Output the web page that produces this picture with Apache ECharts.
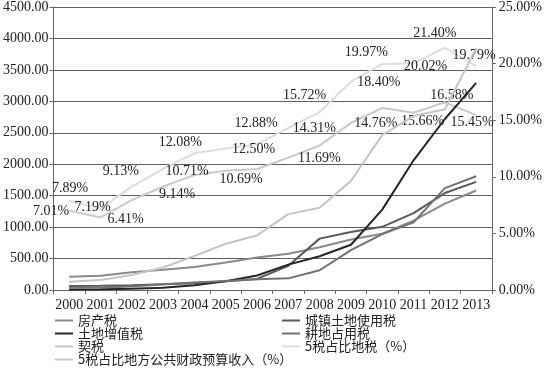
<!DOCTYPE html>
<html>
<head>
<meta charset="utf-8">
<script src="https://cdn.jsdelivr.net/npm/echarts@6/dist/echarts.min.js"></script>
<style>html,body{margin:0;padding:0;background:#fff;}#c{width:545px;height:371px;}</style>
</head>
<body>
<div id="c"></div>
<script>
// ---- data ----
const years = ['2000','2001','2002','2003','2004','2005','2006','2007','2008','2009','2010','2011','2012','2013'];
const fangchanshui = [209.4, 228.4, 282.4, 323.9, 366.3, 435.9, 515.1, 575.5, 680.3, 803.7, 894.1, 1102.4, 1372.5, 1581.5];
const chengzhenTudi = [64.8, 66.2, 76.8, 91.6, 106.2, 137.3, 176.8, 385.5, 816.9, 921.0, 1004.0, 1222.3, 1541.7, 1718.8];
const tudiZengzhi = [8.4, 10.3, 20.5, 37.3, 75.0, 140.3, 231.5, 403.1, 537.4, 719.6, 1278.3, 2062.6, 2719.1, 3293.9];
const gengdiZhanyong = [35.3, 38.3, 57.3, 89.9, 120.1, 141.9, 171.1, 185.0, 314.4, 633.1, 888.6, 1075.5, 1620.7, 1808.2];
const qishui = [131.1, 157.1, 239.1, 358.1, 540.1, 735.1, 867.7, 1206.3, 1307.5, 1735.1, 2464.9, 2765.7, 2874.0, 3844.0];
const shareLocalTax = [7.89, 7.19, 9.13, 10.71, 12.08, 12.50, 12.88, 14.31, 15.72, 18.40, 19.97, 20.02, 21.40, 19.79];
const shareBudget = [7.01, 6.41, 7.94, 9.14, 10.15, 10.53, 10.69, 11.69, 12.76, 14.76, 16.08, 15.66, 16.58, 15.45];
const leftTicks = {min: 0, max: 4500, interval: 500};
const rightTicks = {min: 0, max: 25, interval: 5};

// ---- label styling (which labels are visible and where they sit) ----
const labelShowTax = [1,1,1,1,1,1,1,1,1,1,1,1,1,1];
const labelOffTax = [[1,-12],[-8,-1],[-11,-15],[24,3],[-14,-11],[28,1],[-1,-21],[26,0],[-15,-17],[28,1],[-16,-12],[12,3],[-10,-14],[-2,-11]];
const labelShowBud = [1,1,0,1,0,0,1,1,0,1,0,1,1,1];
const labelOffBud = [[-18,1],[25,2],[0,0],[14,8],[0,0],[0,0],[-16,10],[31,1],[0,0],[25,0],[0,0],[9,9],[7,-7],[-4,7]];

const numFont = 'Liberation Serif';
const cjkFont = 'Noto Sans CJK SC';
const names = ['房产税','城镇土地使用税','土地增值税','耕地占用税','契税','5税占比地税（%）','5税占比地方公共财政预算收入（%）'];
const colors = ['#8a8a8a','#5a5a5a','#262626','#727272','#c4c4c4','#dedede','#c9c9c9'];

function pctData(vals, show, offs){
  return vals.map((v,i)=>({
    value: v,
    label: {show: !!show[i], offset: offs[i]}
  }));
}
function taxSeries(name, vals, color){
  return {name, type:'line', data: vals, yAxisIndex: 0, symbol:'none', color,
    lineStyle:{width:2, color}, z: 3};
}
function pctSeries(name, vals, color, show, offs){
  return {name, type:'line', data: pctData(vals, show, offs), yAxisIndex: 1,
    symbol:'circle', symbolSize: 0.1, showSymbol: true, showAllSymbol: true, color,
    itemStyle:{color},
    lineStyle:{width:2, color}, z: 2,
    label:{show:true, position:'inside', formatter: p => p.value.toFixed(2) + '%',
      fontFamily: numFont, fontSize: 14, color:'#222'}
  };
}

const chart = echarts.init(document.getElementById('c'), null, {renderer:'canvas'});
const axisGray = '#666';
const legendText = {fontFamily: cjkFont, fontSize: 13, color:'#222', lineHeight: 13};
chart.setOption({
  animation: false,
  backgroundColor: '#fff',
  color: colors,
  grid: {left: 53, right: 49, top: 7, bottom: 81, containLabel: false},
  legend: [
    {data: [names[0], names[2], names[4], names[6]], orient:'vertical', left: 55, top: 314,
      height: 60, padding: 0, itemGap: 0, itemWidth: 18, itemHeight: 2, icon: 'rect',
      textStyle: legendText},
    {data: [names[1], names[3], names[5]], orient:'vertical', left: 282, top: 314,
      height: 60, padding: 0, itemGap: 0, itemWidth: 18, itemHeight: 2, icon: 'rect',
      textStyle: legendText}
  ],
  xAxis: {
    type:'category', data: years, boundaryGap: true,
    axisLine:{show:true, lineStyle:{color: axisGray, width:1}},
    axisTick:{show:true, length:4, lineStyle:{color: axisGray}},
    axisLabel:{fontFamily: numFont, fontSize: 14, color:'#222', margin: 8, interval: 0}
  },
  yAxis: [
    {type:'value', min: leftTicks.min, max: leftTicks.max, interval: leftTicks.interval,
      axisLine:{show:true, lineStyle:{color: axisGray}},
      axisTick:{show:true, length:4, lineStyle:{color: axisGray}},
      splitLine:{show:true, lineStyle:{color:'#5e5e5e', width:1}},
      axisLabel:{fontFamily: numFont, fontSize: 14, color:'#222', margin: 5,
        formatter: v => v.toFixed(2)}},
    {type:'value', min: rightTicks.min, max: rightTicks.max, interval: rightTicks.interval,
      position:'right',
      axisLine:{show:true, lineStyle:{color: axisGray}},
      axisTick:{show:true, length:4, lineStyle:{color: axisGray}},
      splitLine:{show:false},
      axisLabel:{fontFamily: numFont, fontSize: 14, color:'#222', margin: 7,
        formatter: v => v.toFixed(2) + '%'}}
  ],
  series: [
    taxSeries(names[0], fangchanshui, colors[0]),
    taxSeries(names[1], chengzhenTudi, colors[1]),
    taxSeries(names[2], tudiZengzhi, colors[2]),
    taxSeries(names[3], gengdiZhanyong, colors[3]),
    taxSeries(names[4], qishui, colors[4]),
    pctSeries(names[5], shareLocalTax, colors[5], labelShowTax, labelOffTax),
    pctSeries(names[6], shareBudget, colors[6], labelShowBud, labelOffBud)
  ]
});
</script>
</body>
</html>
